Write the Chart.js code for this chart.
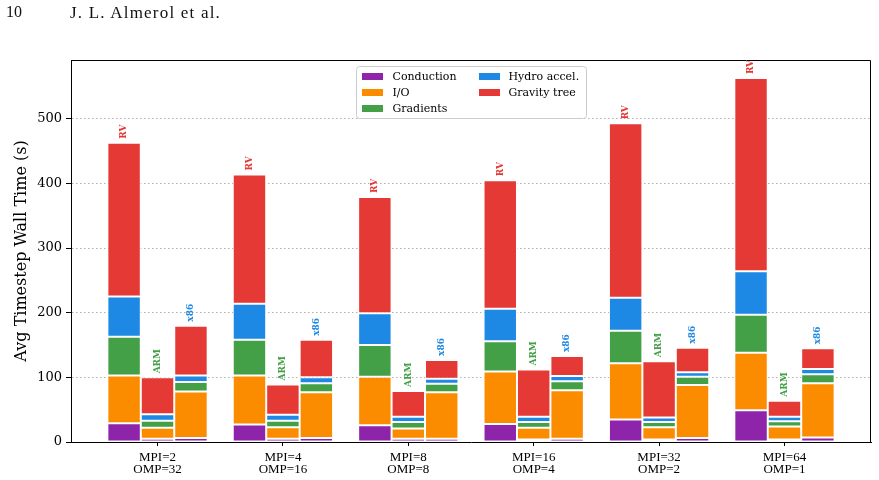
<!DOCTYPE html>
<html>
<head>
<meta charset="utf-8">
<script src="https://cdn.jsdelivr.net/npm/chart.js@4/dist/chart.umd.min.js"></script>
<style>
  html, body { margin: 0; padding: 0; background: #fff; }
  #wrap { position: relative; width: 879px; height: 480px; }
  #header { position: absolute; left: 0; top: 3px; font: 16px "Liberation Serif", serif; color: #111; white-space: nowrap; }
  #header .page { position: absolute; left: 6px; }
  #header .authors { position: absolute; left: 70px; font-size: 17px; letter-spacing: 1.2px; }
</style>
</head>
<body>
<div id="wrap">
  <canvas id="chart" width="879" height="480"></canvas>
  <div id="header"><span class="page">10</span><span class="authors">J. L. Almerol et al.</span></div>
</div>
<script>
const GROUP_LABELS = [
  ["MPI=2", "OMP=32"],
  ["MPI=4", "OMP=16"],
  ["MPI=8", "OMP=8"],
  ["MPI=16", "OMP=4"],
  ["MPI=32", "OMP=2"],
  ["MPI=64", "OMP=1"],
];
const Y_TICKS = [0, 100, 200, 300, 400, 500];

const ARCHS = ["RV", "ARM", "x86"];
const ARCH_COLORS = { RV: "#e53935", ARM: "#43a047", x86: "#1e88e5" };

const COMPONENTS = ["Conduction", "I/O", "Gradients", "Hydro accel.", "Gravity tree"];
const COMPONENT_COLORS = ["#8e24aa", "#fb8c00", "#43a047", "#1e88e5", "#e53935"];

// seconds per timestep, one value per MPI/OMP configuration
const rvConduction = [29, 27, 26, 28, 35, 49];
const rvIO = [74, 76, 75, 81, 87, 89];
const rvGradients = [60, 55, 49, 47, 50, 59];
const rvHydro = [62, 56, 49, 50, 51, 67];
const rvGravity = [238, 200, 180, 199, 270, 299];

const armConduction = [5, 5, 5, 4, 4, 4];
const armIO = [17, 18, 16, 18, 19, 20];
const armGradients = [11, 10, 10, 9, 8, 8];
const armHydro = [10, 9, 8, 8, 7, 7];
const armGravity = [57, 47, 40, 73, 87, 25];

const x86Conduction = [6, 6, 5, 5, 6, 7];
const x86IO = [72, 71, 72, 75, 82, 84];
const x86Gradients = [15, 14, 13, 14, 13, 14];
const x86Hydro = [10, 9, 8, 8, 7, 8];
const x86Gravity = [77, 58, 29, 31, 38, 32];

const SERIES = {
  RV: [rvConduction, rvIO, rvGradients, rvHydro, rvGravity],
  ARM: [armConduction, armIO, armGradients, armHydro, armGravity],
  x86: [x86Conduction, x86IO, x86Gradients, x86Hydro, x86Gravity],
};

const datasets = [];
for (const arch of ARCHS) {
  SERIES[arch].forEach((values, c) => {
    datasets.push({
      label: COMPONENTS[c],
      stack: arch,
      data: values.map((v, i) => ({ x: i, y: v })),
      backgroundColor: COMPONENT_COLORS[c],
      borderColor: "#ffffff",
      borderWidth: 1,
      borderSkipped: false,
    });
  });
}

const SERIF = "'DejaVu Serif', serif";

// top + right spines
const framePlugin = {
  id: "frame",
  afterDatasetsDraw(chart) {
    const { ctx, chartArea: a } = chart;
    ctx.save();
    ctx.strokeStyle = "#000";
    ctx.lineWidth = 1;
    ctx.beginPath();
    ctx.moveTo(Math.round(a.left) + 0.5, Math.round(a.top) + 0.5);
    ctx.lineTo(Math.round(a.right) - 0.5, Math.round(a.top) + 0.5);
    ctx.lineTo(Math.round(a.right) - 0.5, Math.round(a.bottom));
    ctx.stroke();
    ctx.restore();
  },
};

// rotated RV / ARM / x86 tags above each stacked bar
const archTagPlugin = {
  id: "archTags",
  afterDatasetsDraw(chart) {
    const { ctx } = chart;
    ctx.save();
    ctx.font = "bold 9px " + SERIF;
    ctx.textAlign = "left";
    ctx.textBaseline = "middle";
    ARCHS.forEach((arch, a) => {
      const topIndex = a * COMPONENTS.length + COMPONENTS.length - 1;
      const meta = chart.getDatasetMeta(topIndex);
      ctx.fillStyle = ARCH_COLORS[arch];
      meta.data.forEach((bar) => {
        ctx.save();
        ctx.translate(bar.x, bar.y - 4);
        ctx.rotate(-Math.PI / 2);
        ctx.fillText(arch, 0, 0);
        ctx.restore();
      });
    });
    ctx.restore();
  },
};

// matplotlib-style legend inside the axes, two columns
const legendPlugin = {
  id: "boxLegend",
  afterDraw(chart) {
    const { ctx, chartArea: a } = chart;
    const items = chart.data.datasets.filter((d) => d.stack === "RV");
    const w = 230, h = 52;
    const left = Math.round((a.left + a.right) / 2 - w / 2) + 0.5;
    const top = Math.round(a.top + 6) + 0.5;
    ctx.save();
    ctx.fillStyle = "rgba(255,255,255,0.85)";
    ctx.strokeStyle = "#cccccc";
    ctx.lineWidth = 1;
    ctx.beginPath();
    ctx.roundRect(left, top, w, h, 3);
    ctx.fill();
    ctx.stroke();
    ctx.font = "11px " + SERIF;
    ctx.textAlign = "left";
    ctx.textBaseline = "middle";
    items.forEach((d, k) => {
      const col = k < 3 ? 0 : 1;
      const row = k < 3 ? k : k - 3;
      const px = left + (col === 0 ? 5 : 122);
      const tx = left + (col === 0 ? 36 : 152);
      const cy = top + 10 + row * 16;
      ctx.fillStyle = d.backgroundColor;
      ctx.fillRect(Math.round(px), Math.round(cy - 3.5), 21, 7);
      ctx.fillStyle = "#000";
      ctx.fillText(d.label, tx, cy + 0.5);
    });
    ctx.restore();
  },
};

new Chart(document.getElementById("chart"), {
  type: "bar",
  data: { datasets },
  options: {
    responsive: false,
    animation: false,
    layout: { padding: { top: 60, right: 8, left: 0, bottom: 0 } },
    plugins: {
      legend: { display: false },
      tooltip: { enabled: false },
    },
    datasets: { bar: { categoryPercentage: 0.8, barPercentage: 1.0 } },
    scales: {
      x: {
        type: "linear",
        stacked: true,
        offset: false,
        bounds: "data",
        min: -0.69,
        max: 5.69,
        afterBuildTicks: (axis) => {
          axis.ticks = GROUP_LABELS.map((_, i) => ({ value: i }));
        },
        afterFit: (axis) => {
          axis.height = 38;
        },
        grid: { offset: false, drawOnChartArea: false, drawTicks: true, tickLength: 4, tickColor: "#000", tickWidth: 1 },
        border: { display: true, color: "#000", width: 1 },
        ticks: {
          callback: (v) => GROUP_LABELS[v] ?? "",
          font: { family: "'Liberation Serif', serif", size: 13, lineHeight: 0.95 },
          color: "#000",
          padding: 5,
          maxRotation: 0,
          autoSkip: false,
        },
      },
      y: {
        stacked: true,
        bounds: "data",
        min: 0,
        max: 591,
        afterBuildTicks: (axis) => {
          axis.ticks = Y_TICKS.map((v) => ({ value: v }));
        },
        afterFit: (axis) => {
          axis.width = 71;
        },
        grid: { color: "#b0b0b0", lineWidth: 1, tickLength: 5, tickColor: "#000", tickWidth: 1, tickBorderDash: [] },
        border: { display: true, color: "#000", width: 1, dash: [1.5, 2.5] },
        ticks: { font: { family: SERIF, size: 13 }, color: "#000", padding: 4 },
        title: {
          display: true,
          text: "Avg Timestep Wall Time (s)",
          font: { family: SERIF, size: 16 },
          color: "#000",
          padding: { top: 12, bottom: 0 },
        },
      },
    },
  },
  plugins: [framePlugin, archTagPlugin, legendPlugin],
});
</script>
</body>
</html>
